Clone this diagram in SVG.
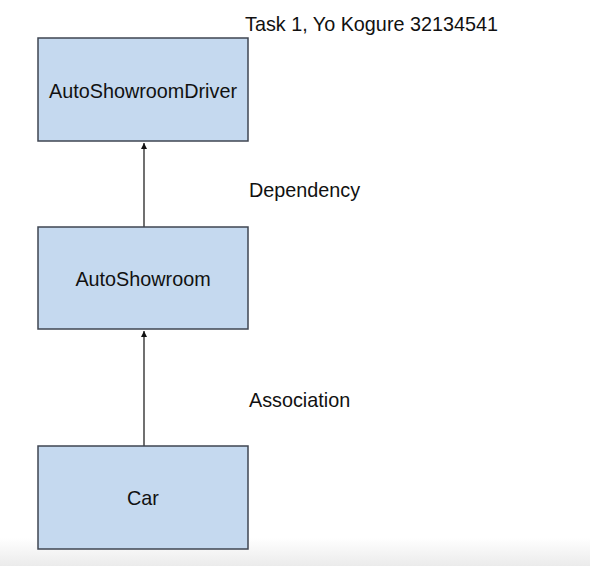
<svg xmlns="http://www.w3.org/2000/svg" width="590" height="566" viewBox="0 0 590 566">
<style>
.box{fill:#c5d9ef;stroke:#3f4652;stroke-width:1.5}
.t{font-family:"Liberation Sans",Arial,sans-serif;font-size:19.8px;fill:#111}
.c{text-anchor:middle}
.ln{stroke:#111;stroke-width:1.2;fill:none}
</style>
<defs>
<marker id="ah" viewBox="0 0 6 6" refX="6" refY="3" markerWidth="6" markerHeight="6" orient="auto" markerUnits="userSpaceOnUse">
<path d="M0,0 L6,3 L0,6 z" fill="#111"/>
</marker>
<linearGradient id="bg" x1="0" y1="0" x2="0" y2="1">
<stop offset="0" stop-color="#ffffff"/>
<stop offset="1" stop-color="#ebebeb"/>
</linearGradient>
</defs>
<rect x="0" y="0" width="590" height="566" fill="#fff"/>
<rect x="0" y="538" width="590" height="28" fill="url(#bg)"/>
<text class="t" x="245" y="31">Task 1, Yo Kogure 32134541</text>
<g id="connectors">
<line class="ln" x1="144" y1="446" x2="144" y2="331" marker-end="url(#ah)"/>
<line class="ln" x1="144" y1="227" x2="144" y2="143" marker-end="url(#ah)"/>
<text class="t" x="249" y="197">Dependency</text>
<text class="t" x="249" y="407">Association</text>
</g>
<g id="AutoShowroomDriver">
<rect class="box" x="38" y="38" width="210" height="103"/>
<text class="t c" x="143" y="98">AutoShowroomDriver</text>
</g>
<g id="AutoShowroom">
<rect class="box" x="38" y="227" width="210" height="102"/>
<text class="t c" x="143" y="286">AutoShowroom</text>
</g>
<g id="Car">
<rect class="box" x="38" y="446" width="210" height="103"/>
<text class="t c" x="143" y="505">Car</text>
</g>
</svg>
